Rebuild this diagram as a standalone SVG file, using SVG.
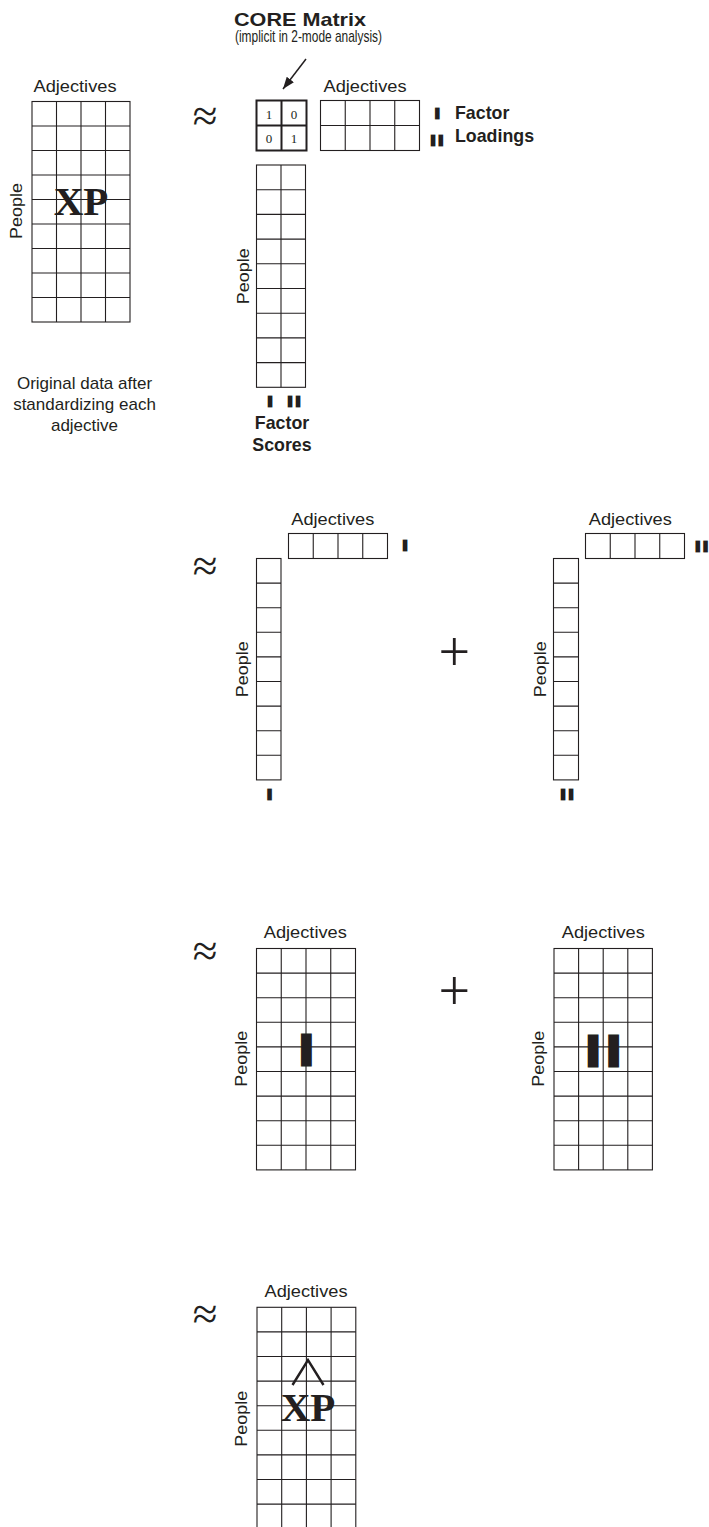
<svg xmlns="http://www.w3.org/2000/svg" width="709" height="1527" viewBox="0 0 709 1527">
<style>
.grid{fill:none;stroke:#231f20;stroke-width:1.1}
.core{fill:none;stroke:#231f20;stroke-width:2}
.lbl{font-family:"Liberation Sans",Arial,sans-serif;font-size:17px;fill:#231f20}
.adj{text-anchor:middle}
.ppl{text-anchor:middle}
.bold{font-family:"Liberation Sans",Arial,sans-serif;font-weight:bold;font-size:17.8px;fill:#231f20}
.num{font-family:"Liberation Serif","Times New Roman",serif;font-size:13px;fill:#231f20;text-anchor:middle}
.xp{font-family:"Liberation Serif","Times New Roman",serif;font-weight:bold;font-size:41px;fill:#231f20;text-anchor:middle}
.sym{font-family:"Liberation Serif","Times New Roman",serif;fill:#231f20;text-anchor:middle}
.rn{font-family:"Liberation Sans",Arial,sans-serif;font-weight:bold;font-size:12.8px;fill:#231f20;stroke:#231f20;stroke-width:2.8;stroke-linejoin:miter}
.rnb{font-family:"Liberation Sans",Arial,sans-serif;font-weight:bold;font-size:40.4px;fill:#231f20;stroke:#231f20;stroke-width:5;stroke-linejoin:miter}
</style>
<defs>
<marker id="ah" viewBox="0 0 12 9" refX="12" refY="4.5" markerWidth="12" markerHeight="9" markerUnits="userSpaceOnUse" orient="auto">
<path d="M0,0 L12,4.5 L0,9 z" fill="#231f20"/>
</marker>
</defs>

<!-- Section 1 -->
<g id="xp-original">
<rect class="grid" x="32" y="101.5" width="98" height="220.5"/>
<path class="grid" d="M56.5,101.5V322M81,101.5V322M105.5,101.5V322M32,126H130M32,150.5H130M32,175H130M32,199.5H130M32,224H130M32,248.5H130M32,273H130M32,297.5H130"/>
<text class="lbl adj" x="75" y="92" textLength="83" lengthAdjust="spacingAndGlyphs">Adjectives</text>
<text class="lbl ppl" transform="translate(22,211) rotate(-90)" textLength="56" lengthAdjust="spacingAndGlyphs">People</text>
<text class="xp" x="81" y="215">XP</text>
</g>
<g id="caption">
<text class="lbl" text-anchor="middle" x="84.5" y="389">Original data after</text>
<text class="lbl" text-anchor="middle" x="84.5" y="410">standardizing each</text>
<text class="lbl" text-anchor="middle" x="84.5" y="431">adjective</text>
</g>
<g id="approx1"><text class="sym" x="205" y="131" font-size="45">≈</text></g>

<g id="core-title">
<text class="bold" x="234" y="26" font-size="20" textLength="132" lengthAdjust="spacingAndGlyphs">CORE Matrix</text>
<text class="lbl" x="235" y="42" font-size="12" textLength="147" lengthAdjust="spacingAndGlyphs">(implicit in 2-mode analysis)</text>
</g>
<g id="core-matrix">
<rect class="core" x="256.5" y="100.5" width="50" height="50"/>
<path class="core" d="M281.5,100.5V150.5M256.5,125.5H306.5"/>
<text class="num" x="269" y="119">1</text>
<text class="num" x="294" y="119">0</text>
<text class="num" x="269" y="143">0</text>
<text class="num" x="294" y="143">1</text>
</g>
<g id="factor-loadings">
<rect class="grid" x="320.5" y="100.5" width="99" height="50"/>
<path class="grid" d="M345.25,100.5V150.5M370,100.5V150.5M394.75,100.5V150.5M320.5,125.5H419.5"/>
<text class="lbl adj" x="365" y="91.7" textLength="83" lengthAdjust="spacingAndGlyphs">Adjectives</text>
<text class="rn" x="435.5" y="117.6">I</text>
<text class="rn" x="431.2" y="144.6">I<tspan dx="4.2">I</tspan></text>
<text class="bold" x="455" y="119">Factor</text>
<text class="bold" x="455" y="141.5">Loadings</text>
</g>
<g id="factor-scores">
<rect class="grid" x="256.5" y="165" width="49" height="222.3"/>
<path class="grid" d="M281,165V387.3M256.5,189.7H305.5M256.5,214.4H305.5M256.5,239.1H305.5M256.5,263.8H305.5M256.5,288.5H305.5M256.5,313.2H305.5M256.5,337.9H305.5M256.5,362.6H305.5"/>
<text class="lbl ppl" transform="translate(249.2,276.2) rotate(-90)" textLength="56" lengthAdjust="spacingAndGlyphs">People</text>
<text class="rn" x="268.2" y="405.9">I</text>
<text class="rn" x="288.2" y="405.9">I<tspan dx="4.6">I</tspan></text>
<text class="bold" text-anchor="middle" x="282" y="429.3">Factor</text>
<text class="bold" text-anchor="middle" x="282" y="451">Scores</text>
</g>

<!-- Section 2 -->
<g id="approx2"><text class="sym" x="205" y="581" font-size="45">≈</text></g>
<g id="factor1-scores">
<rect class="grid" x="256.5" y="558.5" width="24.5" height="221.4"/>
<path class="grid" d="M256.5,583.1H281M256.5,607.7H281M256.5,632.3H281M256.5,656.9H281M256.5,681.5H281M256.5,706.1H281M256.5,730.7H281M256.5,755.3H281"/>
<text class="lbl ppl" transform="translate(248,669.2) rotate(-90)" textLength="56" lengthAdjust="spacingAndGlyphs">People</text>
<text class="rn" x="267.8" y="798.6">I</text>
</g>
<g id="factor1-loadings">
<rect class="grid" x="288.5" y="533.5" width="99" height="25"/>
<path class="grid" d="M313.25,533.5V558.5M338,533.5V558.5M362.75,533.5V558.5"/>
<text class="lbl adj" x="332.8" y="525" textLength="83" lengthAdjust="spacingAndGlyphs">Adjectives</text>
<text class="rn" x="403.2" y="550.3">I</text>
</g>
<g id="plus1"><text class="sym" x="454.2" y="670.5" font-size="56">+</text></g>
<g id="factor2-scores">
<rect class="grid" x="553.5" y="558.5" width="25" height="221.4"/>
<path class="grid" d="M553.5,583.1H578.5M553.5,607.7H578.5M553.5,632.3H578.5M553.5,656.9H578.5M553.5,681.5H578.5M553.5,706.1H578.5M553.5,730.7H578.5M553.5,755.3H578.5"/>
<text class="lbl ppl" transform="translate(545.5,669.2) rotate(-90)" textLength="56" lengthAdjust="spacingAndGlyphs">People</text>
<text class="rn" x="561.2" y="798.6">I<tspan dx="4.4">I</tspan></text>
</g>
<g id="factor2-loadings">
<rect class="grid" x="585.5" y="533.5" width="99" height="25"/>
<path class="grid" d="M610.25,533.5V558.5M635,533.5V558.5M659.75,533.5V558.5"/>
<text class="lbl adj" x="630.3" y="525" textLength="83" lengthAdjust="spacingAndGlyphs">Adjectives</text>
<text class="rn" x="696" y="550.6">I<tspan dx="4.2">I</tspan></text>
</g>

<!-- Section 3 -->
<g id="approx3"><text class="sym" x="205" y="966" font-size="45">≈</text></g>
<g id="component1">
<rect class="grid" x="256.5" y="948.5" width="99" height="221.4"/>
<path class="grid" d="M281.25,948.5V1169.9M306,948.5V1169.9M330.75,948.5V1169.9M256.5,973.1H355.5M256.5,997.7H355.5M256.5,1022.3H355.5M256.5,1046.9H355.5M256.5,1071.5H355.5M256.5,1096.1H355.5M256.5,1120.7H355.5M256.5,1145.3H355.5"/>
<text class="lbl adj" x="305.3" y="938.3" textLength="83" lengthAdjust="spacingAndGlyphs">Adjectives</text>
<text class="lbl ppl" transform="translate(247.2,1058.7) rotate(-90)" textLength="56" lengthAdjust="spacingAndGlyphs">People</text>
<text class="rnb" x="300.75" y="1064.2">I</text>
</g>
<g id="plus2"><text class="sym" x="454.2" y="1009.5" font-size="56">+</text></g>
<g id="component2">
<rect class="grid" x="554" y="948.5" width="98.4" height="221.4"/>
<path class="grid" d="M578.6,948.5V1169.9M603.2,948.5V1169.9M627.8,948.5V1169.9M554,973.1H652.4M554,997.7H652.4M554,1022.3H652.4M554,1046.9H652.4M554,1071.5H652.4M554,1096.1H652.4M554,1120.7H652.4M554,1145.3H652.4"/>
<text class="lbl adj" x="603.3" y="938.3" textLength="83" lengthAdjust="spacingAndGlyphs">Adjectives</text>
<text class="lbl ppl" transform="translate(543.8,1058.7) rotate(-90)" textLength="56" lengthAdjust="spacingAndGlyphs">People</text>
<text class="rnb" x="587.45" y="1064.5">I<tspan dx="9.4">I</tspan></text>
</g>

<!-- Section 4 -->
<g id="approx4"><text class="sym" x="205" y="1329" font-size="45">≈</text></g>
<g id="xp-hat">
<rect class="grid" x="257" y="1307.3" width="98.8" height="221.4"/>
<path class="grid" d="M281.7,1307.3V1528.7M306.4,1307.3V1528.7M331.1,1307.3V1528.7M257,1331.9H355.8M257,1356.5H355.8M257,1381.1H355.8M257,1405.7H355.8M257,1430.3H355.8M257,1454.9H355.8M257,1479.5H355.8M257,1504.1H355.8"/>
<text class="lbl adj" x="306" y="1296.7" textLength="83" lengthAdjust="spacingAndGlyphs">Adjectives</text>
<text class="lbl ppl" transform="translate(247.2,1418.7) rotate(-90)" textLength="56" lengthAdjust="spacingAndGlyphs">People</text>
<text class="xp" x="308" y="1420.5">XP</text>
<polyline points="292.5,1385 308,1360 323.5,1385" fill="none" stroke="#231f20" stroke-width="2.4"/>
</g>

<g id="connectors">
<line x1="306" y1="59" x2="283" y2="89" stroke="#231f20" stroke-width="1.5" marker-end="url(#ah)"/>
</g>
</svg>
